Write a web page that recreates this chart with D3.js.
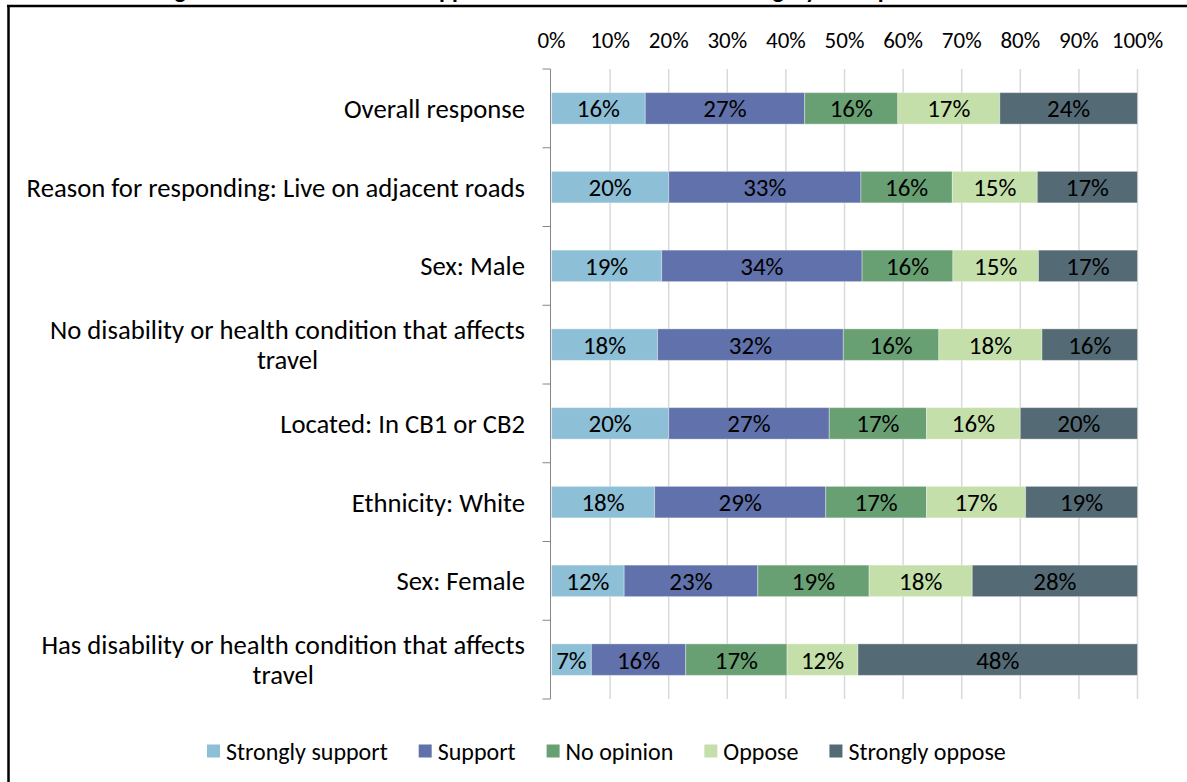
<!DOCTYPE html>
<html>
<head>
<meta charset="utf-8">
<script src="https://cdn.jsdelivr.net/npm/d3@7"></script>
<style>
  body { margin: 0; background: #fff; }
  svg { display: block; font-family: Carlito, Lato, "Liberation Sans", sans-serif; }
</style>
</head>
<body>
<div id="container"></div>
<script>

// categories, top to bottom
var categories = [
    "Overall response",
    "Reason for responding: Live on adjacent roads",
    "Sex: Male",
    "No disability or health condition that affects|travel",
    "Located: In CB1 or CB2",
    "Ethnicity: White",
    "Sex: Female",
    "Has disability or health condition that affects|travel"
];

var seriesNames = ["Strongly support", "Support", "No opinion", "Oppose", "Strongly oppose"];
var seriesColors = ["#8dbfd7", "#6071ab", "#69a073", "#c4dfa9", "#546b75"];

// percentages per series, same order as categories
var stronglySupport = [16.0, 20.0, 18.8, 18.1, 20.0, 17.6, 12.4, 6.8];
var support         = [27.2, 32.8, 34.2, 31.7, 27.4, 29.2, 22.8, 16.1];
var noOpinion       = [15.9, 15.6, 15.5, 16.3, 16.6, 17.2, 19.0, 17.3];
var oppose          = [17.4, 14.5, 14.6, 17.6, 16.0, 16.9, 17.6, 12.1];
var stronglyOppose  = [23.5, 17.1, 16.9, 16.3, 20.0, 19.1, 28.2, 47.7];

var xTicks = [0, 10, 20, 30, 40, 50, 60, 70, 80, 90, 100];

var titleText = "Figure 14: Level of overall support for the scheme in each category of respondent";

var W = 1187, H = 782;

var svg = d3.select("#container").append("svg")
    .attr("width", W)
    .attr("height", H);

var values = [stronglySupport, support, noOpinion, oppose, stronglyOppose];

var rows = categories.map(function (c, i) {
    var row = { cat: c };
    seriesNames.forEach(function (s, j) { row[s] = values[j][i]; });
    return row;
});

var stack = d3.stack().keys(seriesNames)(rows);

var x = d3.scaleLinear().domain([0, 100]).range([551.5, 1137.5]);
var y = d3.scaleBand().domain(categories).range([69, 699])
    .paddingInner(0.6).paddingOuter(0.3);

// frame (chart area border)
svg.append("line").attr("x1", 7).attr("x2", W).attr("y1", 6).attr("y2", 6)
    .attr("stroke", "#000").attr("stroke-width", 2.5);
svg.append("line").attr("x1", 8.5).attr("x2", 8.5).attr("y1", 5).attr("y2", H)
    .attr("stroke", "#000").attr("stroke-width", 2.5);

// title (mostly cut off above the picture)
svg.append("text")
    .attr("x", 560).attr("y", -2)
    .attr("text-anchor", "middle")
    .style("font-size", "24px").style("font-weight", "bold")
    .text(titleText);

// gridlines
svg.append("g").selectAll("line").data(xTicks.slice(1)).join("line")
    .attr("x1", function (d) { return x(d); })
    .attr("x2", function (d) { return x(d); })
    .attr("y1", y.range()[0]).attr("y2", y.range()[1])
    .attr("stroke", "#d9d9d9").attr("stroke-width", 1.5);

// top axis labels
svg.append("g").selectAll("text").data(xTicks).join("text")
    .attr("x", function (d) { return x(d); })
    .attr("y", 40)
    .attr("dy", "0.36em")
    .attr("text-anchor", "middle")
    .style("font-size", "23px")
    .text(function (d) { return d + "%"; });

// left axis with tick marks between categories
var axisG = svg.append("g");
axisG.append("line")
    .attr("x1", x(0) - 1).attr("x2", x(0) - 1)
    .attr("y1", y.range()[0]).attr("y2", y.range()[1])
    .attr("stroke", "#868686").attr("stroke-width", 1);
var step = y.step();
axisG.selectAll("line.tick").data(d3.range(categories.length + 1)).join("line")
    .attr("class", "tick")
    .attr("x1", x(0) - 9).attr("x2", x(0) - 1)
    .attr("y1", function (i) { return y.range()[0] + i * step; })
    .attr("y2", function (i) { return y.range()[0] + i * step; })
    .attr("stroke", "#868686").attr("stroke-width", 1);

// bars
var layers = svg.append("g").selectAll("g").data(stack).join("g")
    .attr("fill", function (d, i) { return seriesColors[i]; });

layers.selectAll("rect").data(function (d) { return d; }).join("rect")
    .attr("x", function (d) { return x(d[0]); })
    .attr("width", function (d) { return x(d[1]) - x(d[0]); })
    .attr("y", function (d) { return y(d.data.cat); })
    .attr("height", y.bandwidth())
    .attr("stroke", "#ffffff").attr("stroke-opacity", 0.35).attr("stroke-width", 1);

// data labels
var labels = svg.append("g");
stack.forEach(function (layer) {
    labels.selectAll(null).data(layer).join("text")
        .attr("x", function (d) { return (x(d[0]) + x(d[1])) / 2; })
        .attr("y", function (d) { return y(d.data.cat) + y.bandwidth() / 2; })
        .attr("dy", "0.36em")
        .attr("text-anchor", "middle")
        .style("font-size", "25px")
        .text(function (d) { return Math.round(d[1] - d[0]) + "%"; });
});

// category labels (wrapped ones are centred inside a right aligned block)
var catG = svg.append("g");
categories.forEach(function (c) {
    var lines = c.split("|");
    var cy = y(c) + y.bandwidth() / 2;
    var lh = 30;
    var g = catG.append("g");
    var texts = g.selectAll("text").data(lines).join("text")
        .attr("y", function (d, i) { return cy + (i - (lines.length - 1) / 2) * lh; })
        .attr("dy", "0.36em")
        .style("font-size", "26.7px")
        .text(function (d) { return d; });
    var widest = d3.max(texts.nodes(), function (n) { return n.getComputedTextLength(); });
    var right = 525;
    texts.attr("text-anchor", "middle").attr("x", right - widest / 2);
});

// legend
var legendG = svg.append("g");
var lx = 207;
seriesNames.forEach(function (s, i) {
    var item = legendG.append("g").attr("transform", "translate(" + lx + ",751)");
    item.append("rect").attr("x", 0).attr("y", -6.5).attr("width", 13).attr("height", 13)
        .attr("fill", seriesColors[i]);
    var t = item.append("text").attr("x", 19).attr("dy", "0.36em")
        .style("font-size", "24px").text(s);
    lx += 19 + t.node().getComputedTextLength() + 31;
});

</script>
</body>
</html>
